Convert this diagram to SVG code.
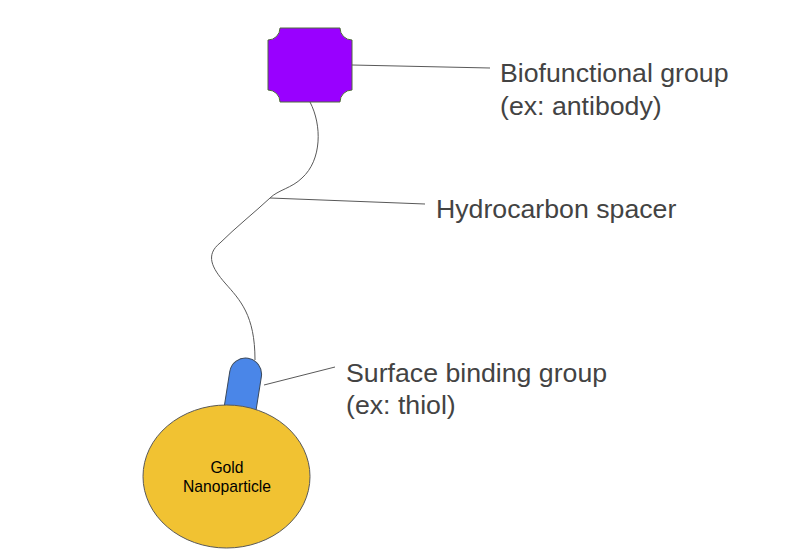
<svg xmlns="http://www.w3.org/2000/svg" width="800" height="558" viewBox="0 0 800 558">
<style>
.lbl{font-family:"Liberation Sans",Arial,sans-serif;font-size:26.7px;fill:#434343}
.in{font-family:"Liberation Sans",Arial,sans-serif;font-size:15.7px;fill:#000;text-anchor:middle}
.lead{stroke:#595959;stroke-width:1;fill:none}
</style>
<rect width="800" height="558" fill="#fff"/>
<g id="connectors">
<path class="lead" d="M310,102 C322,125 322,160 302,178 C292,188 278,190 270,198 C255,212 235,228 220,243 C205,255 212,268 225,283 C240,300 255,315 255,360" stroke="#333"/>
<line class="lead" x1="352" y1="65" x2="490" y2="68"/>
<line class="lead" x1="270" y1="198" x2="425" y2="204"/>
<line class="lead" x1="264" y1="385" x2="335" y2="367"/>
</g>
<g id="biofunctional">
<path d="M280,28 H340 A12,12 0 0 0 352,40 V90 A12,12 0 0 0 340,102 H280 A12,12 0 0 0 268,90 V40 A12,12 0 0 0 280,28 Z" fill="#9900ff" stroke="#4f6b3c" stroke-width="1"/>
</g>
<g id="thiol">
<path transform="translate(244,384) rotate(9)" d="M-16,40 V-10 A16,16 0 0 1 16,-10 V40 Z" fill="#4a86e8" stroke="#3c4a5c" stroke-width="1"/>
</g>
<g id="gold">
<ellipse cx="226.5" cy="476.5" rx="83.5" ry="71.5" fill="#f1c232" stroke="#595959" stroke-width="1"/>
<text class="in" x="227" y="473">Gold</text>
<text class="in" x="227" y="492">Nanoparticle</text>
</g>
<g id="label-bio">
<text class="lbl" x="500" y="82">Biofunctional group</text>
<text class="lbl" x="500" y="115">(ex: antibody)</text>
</g>
<g id="label-spacer">
<text class="lbl" x="436" y="218">Hydrocarbon spacer</text>
</g>
<g id="label-surface">
<text class="lbl" x="346" y="382">Surface binding group</text>
<text class="lbl" x="346" y="414">(ex: thiol)</text>
</g>
</svg>
